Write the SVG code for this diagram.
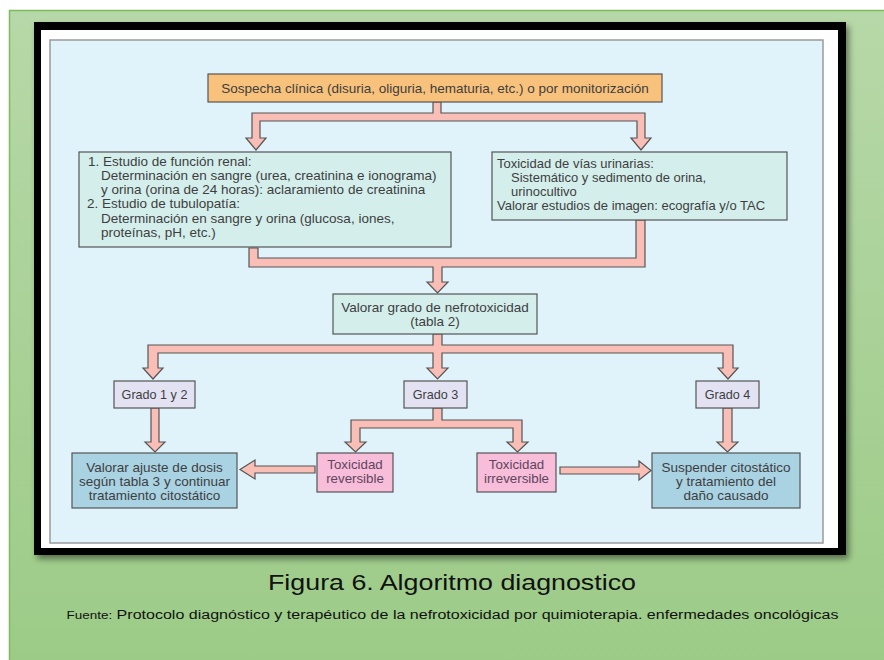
<svg xmlns="http://www.w3.org/2000/svg" width="884" height="660" viewBox="0 0 884 660">
<defs>
<linearGradient id="bg" x1="0" y1="0" x2="0" y2="1">
<stop offset="0" stop-color="#b7d8a8"/>
<stop offset="1" stop-color="#9ccb87"/>
</linearGradient>
<filter id="sh" x="-5%" y="-5%" width="110%" height="110%">
<feDropShadow dx="3" dy="4" stdDeviation="3" flood-color="#000" flood-opacity="0.45"/>
</filter>
</defs>
<style>
text{font-family:"Liberation Sans",Arial,sans-serif;fill:#3e3e3e;font-size:13.5px}
.c{text-anchor:middle}
.box{stroke:#555;stroke-width:1.2}
.or{fill:#f9c27c}
.tl{fill:#d4eeec}
.gr{fill:#e2e2f2}
.bl{fill:#a9d2e3}
.pk{fill:#f8bdd8}
.pk-t{fill:#5e4560;font-size:13.3px}
.r{font-size:13px}
.g{font-size:12.6px}
.b13{font-size:13.5px}
.pipe{fill:#f9beb5;stroke:#555;stroke-width:1.2;stroke-linejoin:miter}
</style>
<rect x="9.5" y="10.5" width="880" height="655" fill="url(#bg)" stroke="#7dbb5c" stroke-width="1.5"/>
<rect x="34" y="22" width="812" height="533" fill="#000" filter="url(#sh)"/>
<rect x="41" y="30" width="797" height="518" fill="#fff"/>
<rect x="50" y="40" width="773" height="503" fill="#e0f3fa" stroke="#9a9a9a" stroke-width="1.5"/>

<g id="connectors">
<path class="pipe" d="M433,102 H441 V113 H645 V138 H651 L641,150 L631,138 H637 V121 H260 V138 H266 L256,150 L246,138 H252 V113 H433 Z"/>
<path class="pipe" d="M249,248 H258 V258 H636 V220 H645 V267 H442 V282 H448 L437.5,293 L427,282 H433 V267 H249 Z"/>
<path class="pipe" d="M433,334 H442 V345 H733 V368 H738 L728,379 L718,368 H723 V353 H442 V368 H448 L437.5,379 L427,368 H433 V353 H158 V368 H163 L153,379 L143,368 H148 V345 H433 Z"/>
<path class="pipe" d="M151,408 H159 V442 H165 L155,452 L145,442 H151 Z"/>
<path class="pipe" d="M433,408 H442 V420 H522 V442 H528 L517.5,452 L507,442 H513 V428 H360 V442 H366 L355.5,452 L345,442 H351 V420 H433 Z"/>
<path class="pipe" d="M723,408 H732 V442 H738 L727.5,452 L717,442 H723 Z"/>
<path class="pipe" d="M315,466 V473 H255 V479 L240,469.5 L255,460 V466 Z"/>
<path class="pipe" d="M560,467 V474 H639 V480 L651,470.5 L639,461 V467 Z"/>
</g>

<g id="sospecha">
<rect class="box or" x="208" y="74" width="454" height="28"/>
<text class="c" x="435" y="92.5">Sospecha clínica (disuria, oliguria, hematuria, etc.) o por monitorización</text>
</g>

<g id="estudios">
<rect class="box tl" x="79" y="152" width="372" height="95"/>
<text x="88" y="165.5">1. Estudio de función renal:</text>
<text x="101" y="180">Determinación en sangre (urea, creatinina e ionograma)</text>
<text x="101" y="194">y orina (orina de 24 horas): aclaramiento de creatinina</text>
<text x="87" y="208">2. Estudio de tubulopatía:</text>
<text x="101" y="223">Determinación en sangre y orina (glucosa, iones,</text>
<text x="101" y="237">proteínas, pH, etc.)</text>
</g>

<g id="vias">
<rect class="box tl" x="492" y="152" width="295" height="68"/>
<text class="r" x="497" y="168">Toxicidad de vías urinarias:</text>
<text class="r" x="511" y="182">Sistemático y sedimento de orina,</text>
<text class="r" x="511" y="196">urinocultivo</text>
<text class="r" x="497" y="210">Valorar estudios de imagen: ecografía y/o TAC</text>
</g>

<g id="valorar-grado">
<rect class="box tl" x="333" y="294" width="204" height="40"/>
<text class="c" x="435" y="311.5">Valorar grado de nefrotoxicidad</text>
<text class="c" x="435" y="326">(tabla 2)</text>
</g>

<g id="grado12">
<rect class="box gr" x="114" y="381" width="81" height="27"/>
<text class="c g" x="154.5" y="399">Grado 1 y 2</text>
</g>
<g id="grado3">
<rect class="box gr" x="404" y="381" width="63" height="27"/>
<text class="c g" x="435.5" y="399">Grado 3</text>
</g>
<g id="grado4">
<rect class="box gr" x="696" y="381" width="63" height="27"/>
<text class="c g" x="727.5" y="399">Grado 4</text>
</g>

<g id="ajuste">
<rect class="box bl" x="72" y="453" width="165" height="55"/>
<text class="c b13" x="154.5" y="472">Valorar ajuste de dosis</text>
<text class="c b13" x="154.5" y="486">según tabla 3 y continuar</text>
<text class="c b13" x="154.5" y="500">tratamiento citostático</text>
</g>

<g id="reversible">
<rect class="box pk" x="317" y="453" width="76" height="39"/>
<text class="c pk-t" x="355" y="468.5">Toxicidad</text>
<text class="c pk-t" x="355" y="483">reversible</text>
</g>

<g id="irreversible">
<rect class="box pk" x="477" y="453" width="79" height="39"/>
<text class="c pk-t" x="516.5" y="468.5">Toxicidad</text>
<text class="c pk-t" x="516.5" y="483">irreversible</text>
</g>

<g id="suspender">
<rect class="box bl" x="652" y="453" width="148" height="55"/>
<text class="c b13" x="726" y="472">Suspender citostático</text>
<text class="c b13" x="726" y="486">y tratamiento del</text>
<text class="c b13" x="726" y="500">daño causado</text>
</g>

<g id="caption">
<text class="c" x="452" y="590" style="font-size:22px;fill:#111" textLength="368" lengthAdjust="spacingAndGlyphs">Figura 6. Algoritmo diagnostico</text>
<text class="c" x="452.5" y="619" style="font-size:12.5px;fill:#111" textLength="772" lengthAdjust="spacingAndGlyphs"><tspan style="font-size:10.5px">Fuente:</tspan> Protocolo diagnóstico y terapéutico de la nefrotoxicidad por quimioterapia. enfermedades oncológicas</text>
</g>
</svg>
